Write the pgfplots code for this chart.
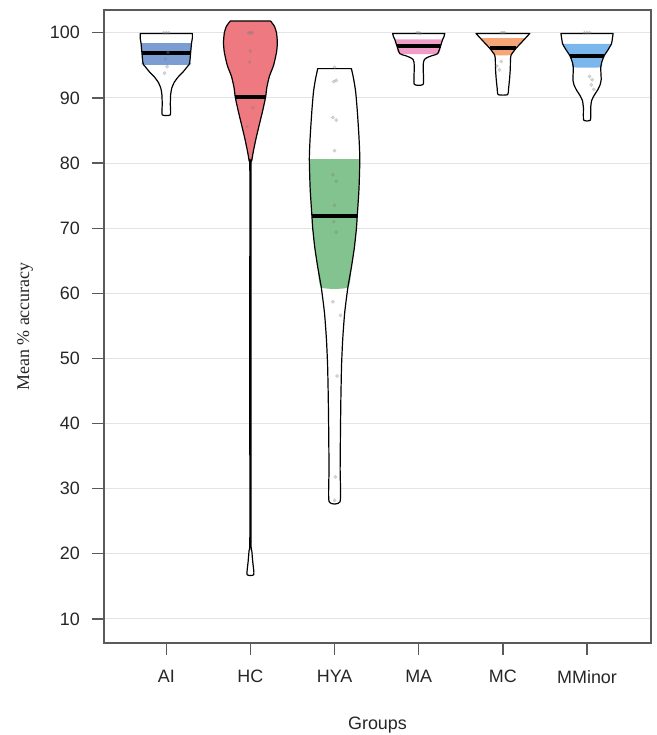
\documentclass[border=0pt]{standalone}
\usepackage{pgfplots}
\pgfplotsset{compat=1.18}
\usepackage{pgfplotstable}
\usepackage{fontspec}
\setmainfont{Liberation Sans}
\newfontfamily\timesfont{Liberation Serif}

\definecolor{axgray}{HTML}{5A5A5A}
\definecolor{gridgray}{HTML}{E4E4E4}
\definecolor{cAI}{HTML}{648CCD}
\definecolor{cHC}{HTML}{EC626C}
\definecolor{cHYA}{HTML}{6EB97D}
\definecolor{cMA}{HTML}{F08CBE}
\definecolor{cMC}{HTML}{F5965F}
\definecolor{cMM}{HTML}{64AAEB}

% violin outlines as closed polygons: y and signed offset from the group centre
\pgfplotstableread{
y w
99.9 0.31
99.2 0.31
98.4 0.30
97.0 0.29
95.6 0.28
95.1 0.27
94.8 0.25
94.0 0.20
93.2 0.14
92.4 0.095
91.5 0.065
90.5 0.052
89.0 0.048
87.4 0.048
87.4 -0.048
89.0 -0.048
90.5 -0.052
91.5 -0.065
92.4 -0.095
93.2 -0.14
94.0 -0.20
94.8 -0.25
95.1 -0.27
95.6 -0.28
97.0 -0.29
98.4 -0.30
99.2 -0.31
99.9 -0.31
}\AI
\pgfplotstableread{
y w
98.4 0.30
97.0 0.29
95.6 0.28
95.1 0.27
95.1 -0.27
95.6 -0.28
97.0 -0.29
98.4 -0.30
}\AIband
\pgfplotstableread{
y w
101.8 0.24
101.0 0.285
100.0 0.31
98.5 0.32
97.0 0.31
95.0 0.275
93.3 0.225
91.6 0.195
90.1 0.18
88.0 0.145
85.6 0.10
83.5 0.062
81.6 0.032
80.3 0.015
79.5 0.007
60.0 0.007
40.0 0.007
22.0 0.007
20.5 0.016
18.7 0.028
16.8 0.04
16.8 -0.04
18.7 -0.028
20.5 -0.016
22.0 -0.007
40.0 -0.007
60.0 -0.007
79.5 -0.007
80.3 -0.015
81.6 -0.032
83.5 -0.062
85.6 -0.10
88.0 -0.145
90.1 -0.18
91.6 -0.195
93.3 -0.225
95.0 -0.275
97.0 -0.31
98.5 -0.32
100.0 -0.31
101.0 -0.285
101.8 -0.24
}\HC
\pgfplotstableread{
y w
101.8 0.24
101.0 0.285
100.0 0.31
98.5 0.32
97.0 0.31
95.0 0.275
93.3 0.225
91.6 0.195
90.1 0.18
88.0 0.145
85.6 0.10
83.5 0.062
81.6 0.032
80.3 0.015
79.5 0.007
79.5 -0.007
80.3 -0.015
81.6 -0.032
83.5 -0.062
85.6 -0.10
88.0 -0.145
90.1 -0.18
91.6 -0.195
93.3 -0.225
95.0 -0.275
97.0 -0.31
98.5 -0.32
100.0 -0.31
101.0 -0.285
101.8 -0.24
}\HCband
\pgfplotstableread{
y w
94.5 0.20
93.0 0.225
91.0 0.25
88.0 0.27
84.0 0.29
80.6 0.30
76.0 0.29
72.0 0.27
70.0 0.26
67.0 0.235
64.0 0.20
60.9 0.158
57.0 0.12
53.0 0.097
49.0 0.083
44.0 0.075
39.0 0.07
33.0 0.066
28.0 0.065
28.0 -0.065
33.0 -0.066
39.0 -0.07
44.0 -0.075
49.0 -0.083
53.0 -0.097
57.0 -0.12
60.9 -0.158
64.0 -0.20
67.0 -0.235
70.0 -0.26
72.0 -0.27
76.0 -0.29
80.6 -0.30
84.0 -0.29
88.0 -0.27
91.0 -0.25
93.0 -0.225
94.5 -0.20
}\HYA
\pgfplotstableread{
y w
80.6 0.30
76.0 0.29
72.0 0.27
70.0 0.26
67.0 0.235
64.0 0.20
60.9 0.158
60.9 -0.158
64.0 -0.20
67.0 -0.235
70.0 -0.26
72.0 -0.27
76.0 -0.29
80.6 -0.30
}\HYAband
\pgfplotstableread{
y w
99.9 0.31
99.4 0.30
99.0 0.285
98.0 0.26
96.8 0.225
96.5 0.16
96.2 0.10
95.9 0.068
95.5 0.056
94.5 0.053
92.1 0.053
92.1 -0.053
94.5 -0.053
95.5 -0.056
95.9 -0.068
96.2 -0.10
96.5 -0.16
96.8 -0.225
98.0 -0.26
99.0 -0.285
99.4 -0.30
99.9 -0.31
}\MA
\pgfplotstableread{
y w
99.0 0.285
98.0 0.26
96.8 0.225
96.8 -0.225
98.0 -0.26
99.0 -0.285
}\MAband
\pgfplotstableread{
y w
99.9 0.32
99.2 0.27
98.5 0.22
97.6 0.155
96.6 0.098
95.8 0.09
94.5 0.088
93.0 0.08
91.5 0.068
90.5 0.055
90.5 -0.055
91.5 -0.068
93.0 -0.08
94.5 -0.088
95.8 -0.09
96.6 -0.098
97.6 -0.155
98.5 -0.22
99.2 -0.27
99.9 -0.32
}\MC
\pgfplotstableread{
y w
99.2 0.27
98.5 0.22
97.6 0.155
96.6 0.098
96.6 -0.098
97.6 -0.155
98.5 -0.22
99.2 -0.27
}\MCband
\pgfplotstableread{
y w
99.9 0.31
99.0 0.30
98.3 0.29
97.5 0.255
96.5 0.205
95.5 0.175
94.7 0.163
93.8 0.165
92.8 0.168
92.0 0.155
91.2 0.125
90.4 0.085
89.6 0.055
88.5 0.043
86.6 0.04
86.6 -0.04
88.5 -0.043
89.6 -0.055
90.4 -0.085
91.2 -0.125
92.0 -0.155
92.8 -0.168
93.8 -0.165
94.7 -0.163
95.5 -0.175
96.5 -0.205
97.5 -0.255
98.3 -0.29
99.0 -0.30
99.9 -0.31
}\MM
\pgfplotstableread{
y w
98.3 0.29
97.5 0.255
96.5 0.205
95.5 0.175
94.7 0.163
94.7 -0.163
95.5 -0.175
96.5 -0.205
97.5 -0.255
98.3 -0.29
}\MMband

% outline table, band table, centre, colour, median, median half width
\newcommand{\violin}[6]{%
  \addplot[fill=white, draw=none, smooth, tension=0.35] table[x expr=#3+\thisrow{w}, y=y] {#1} -- cycle;
  \addplot[fill=#4, fill opacity=0.85, draw=none, smooth, tension=0.35] table[x expr=#3+\thisrow{w}, y=y] {#2} -- cycle;
  \addplot[black, line width=4bp] coordinates {(#3-#6,#5) (#3+#6,#5)};
  \addplot[draw=black, line width=1.2bp, line join=round, fill=none, smooth, tension=0.35] table[x expr=#3+\thisrow{w}, y=y] {#1} -- cycle;
}

\begin{document}
\begin{tikzpicture}
\begin{axis}[
  name=ax,
  scale only axis, width=547bp, height=633bp,
  xmin=0.26, xmax=6.76, ymin=6.3, ymax=103.5,
  xtick={1,2,3,4,5,6},
  xticklabels={AI,HC,HYA,MA,MC,MMinor},
  ytick={10,20,...,100},
  tick pos=left, tick align=outside, major tick length=12bp,
  axis line style={draw=axgray, line width=1.3bp},
  every tick/.style={draw=axgray, line width=1.3bp},
  ymajorgrids, grid style={draw=gridgray, line width=0.9bp},
  /pgf/number format/assume math mode=true,
  tick label style={font=\fontsize{18}{20}\selectfont, text=black!85},
  xticklabel style={inner sep=0pt, anchor=north, yshift=-15bp},
  yticklabel style={inner sep=0pt, anchor=east, xshift=-12bp},
  xlabel={Groups},
  xlabel style={at={(axis description cs:0.5,0)}, anchor=north, inner sep=0pt, yshift=-74bp, font=\fontsize{18}{20}\selectfont, text=black!85},
  ylabel={Mean \% accuracy},
  ylabel style={at={(axis description cs:-0.1444,0.5)}, anchor=center, inner sep=0pt, font=\timesfont\fontsize{18}{20}\selectfont, text=black!85},
]
\violin{\AI}{\AIband}{1}{cAI}{96.9}{0.285}
\violin{\HC}{\HCband}{2}{cHC}{90.1}{0.18}
\violin{\HYA}{\HYAband}{3}{cHYA}{71.9}{0.27}
\violin{\MA}{\MAband}{4}{cMA}{98.0}{0.26}
\violin{\MC}{\MCband}{5}{cMC}{97.6}{0.155}
\violin{\MM}{\MMband}{6}{cMM}{96.5}{0.205}

\addplot[only marks, mark=*, mark size=1.7bp, opacity=0.3, mark options={draw=gray, fill=gray}] table {
x y
1.00 100.0
0.97 100.0
1.03 100.0
1.02 97.0
0.99 96.0
1.01 94.8
0.98 93.8
2.00 100.0
2.02 100.0
1.98 100.0
2.00 97.2
1.99 95.5
2.03 88.5
1.96 85.6
3.00 94.7
2.99 92.5
3.02 92.7
2.98 87.0
3.02 86.6
3.00 81.9
2.98 78.2
3.02 77.2
3.00 73.5
2.99 71.0
3.02 69.4
2.98 58.7
3.07 56.6
3.03 47.3
3.01 31.8
3.00 28.2
4.00 100.0
3.98 100.0
4.02 99.9
5.00 100.0
4.98 100.0
5.02 100.0
4.93 94.9
4.96 94.3
4.98 95.6
6.00 100.0
5.97 100.0
6.03 100.0
6.03 93.3
6.06 92.8
6.05 92.0
6.08 91.3
};
\end{axis}
\pgfresetboundingbox
\path[use as bounding box] (ax.south west) ++(-104bp,-92bp) rectangle ++(657bp,735bp);
\end{tikzpicture}
\end{document}
